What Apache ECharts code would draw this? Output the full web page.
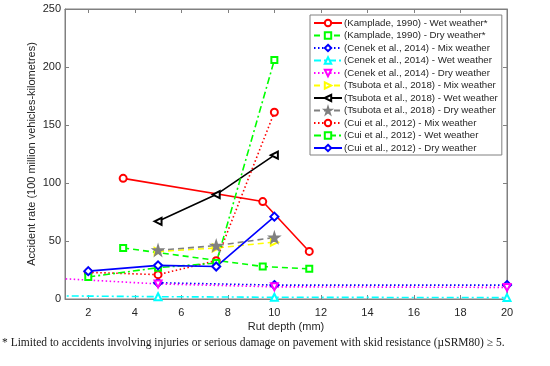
<!DOCTYPE html>
<html>
<head>
<meta charset="utf-8">
<script src="https://cdn.jsdelivr.net/npm/echarts@6/dist/echarts.min.js"></script>
<style>html,body{margin:0;padding:0;background:#fff}#c{width:550px;height:366px}</style>
</head>
<body>
<div id="c"></div>
<script>
// ---- data ----
const seriesNames = [
  '(Kamplade, 1990) - Wet weather*',
  '(Kamplade, 1990) - Dry weather*',
  '(Cenek et al., 2014) - Mix weather',
  '(Cenek et al., 2014) - Wet weather',
  '(Cenek et al., 2014) - Dry weather',
  '(Tsubota et al., 2018) - Mix weather',
  '(Tsubota et al., 2018) - Wet weather',
  '(Tsubota et al., 2018) - Dry weather',
  '(Cui et al., 2012) - Mix weather',
  '(Cui et al., 2012) - Wet weather',
  '(Cui et al., 2012) - Dry weather'
];
const kampladeWetX = [3.5, 9.5, 11.5];
const kampladeWetY = [104, 84, 41];
const kampladeDryX = [3.5, 9.5, 11.5];
const kampladeDryY = [44, 28, 26];
const cenekMixX = [5, 10, 20];
const cenekMixY = [14, 12, 12];
const cenekWetX = [0, 5, 10, 20];
const cenekWetY = [2.8, 2, 1.5, 1.2];
const cenekDryX = [0, 5, 10, 20];
const cenekDryY = [18.5, 13, 10.5, 10];
const tsubotaMixX = [5, 7.5, 10];
const tsubotaMixY = [41, 44, 49];
const tsubotaWetX = [5, 7.5, 10];
const tsubotaWetY = [67, 90, 124];
const tsubotaDryX = [5, 7.5, 10];
const tsubotaDryY = [42, 46, 53];
const cuiMixX = [2, 5, 7.5, 10];
const cuiMixY = [23, 21, 33, 161];
const cuiWetX = [2, 5, 7.5, 10];
const cuiWetY = [19, 27, 31, 206];
const cuiDryX = [2, 5, 7.5, 10];
const cuiDryY = [24, 29, 28, 71];
const xTicks = [2, 4, 6, 8, 10, 12, 14, 16, 18, 20];
const yTicks = [0, 50, 100, 150, 200, 250];
const xTitle = 'Rut depth (mm)';
const yTitle = 'Accident rate (100 million vehicles-kilometres)';
const footnote = '* Limited to accidents involving injuries or serious damage on pavement with skid resistance (\u00b5SRM80) \u2265 5.';

// ---- styling ----
const STAR = 'path://M50,0 L61.8,36.2 L100,36.2 L69.1,58.8 L80.9,95.1 L50,72.7 L19.1,95.1 L30.9,58.8 L0,36.2 L38.2,36.2 Z';
const xs = [kampladeWetX, kampladeDryX, cenekMixX, cenekWetX, cenekDryX, tsubotaMixX, tsubotaWetX, tsubotaDryX, cuiMixX, cuiWetX, cuiDryX];
const ys = [kampladeWetY, kampladeDryY, cenekMixY, cenekWetY, cenekDryY, tsubotaMixY, tsubotaWetY, tsubotaDryY, cuiMixY, cuiWetY, cuiDryY];
const DASH = [6, 4], DOT = [1.5, 2.5], DASHDOT = [7, 3, 2, 3];
const styles = [
  {c:'#ff0000', t:'solid', s:'emptyCircle', r:0, sz:7},
  {c:'#00ff00', t:DASH, s:'emptyRect', r:0, sz:6},
  {c:'#0000ff', t:DOT, s:'emptyDiamond', r:0, sz:8},
  {c:'#00ffff', t:DASHDOT, s:'emptyTriangle', r:0, sz:7},
  {c:'#ff00ff', t:DOT, s:'emptyTriangle', r:180, sz:7},
  {c:'#ffff00', t:DASH, s:'emptyTriangle', r:-90, sz:7},
  {c:'#000000', t:'solid', s:'emptyTriangle', r:90, sz:7},
  {c:'#808080', t:DASH, s:STAR, r:0, sz:10},
  {c:'#ff0000', t:DOT, s:'emptyCircle', r:0, sz:7},
  {c:'#00ff00', t:DASHDOT, s:'emptyRect', r:0, sz:6},
  {c:'#0000ff', t:'solid', s:'emptyDiamond', r:0, sz:8}
];

const series = seriesNames.map((name, i) => ({
  name: name,
  type: 'line',
  data: xs[i].map((x, j) => [x, ys[i][j]]),
  symbol: styles[i].s,
  symbolSize: styles[i].sz,
  symbolRotate: styles[i].r,
  showAllSymbol: true,
  clip: true,
  lineStyle: {color: styles[i].c, width: 1.6, type: styles[i].t},
  itemStyle: {color: styles[i].c, borderColor: styles[i].c, borderWidth: 1.6},
  emphasis: {disabled: true},
  animation: false
}));

const axisCol = '#808080';
const labCol = '#262626';
const chart = echarts.init(document.getElementById('c'), null, {renderer: 'canvas'});
chart.setOption({
  backgroundColor: '#ffffff',
  animation: false,
  grid: {left: 65, right: 43, top: 9, bottom: 67, show: true, borderColor: axisCol, borderWidth: 1, backgroundColor: 'transparent'},
  xAxis: [{
    type: 'value', min: 1, max: 20,
    axisLine: {show: true, onZero: false, lineStyle: {color: axisCol}},
    axisTick: {show: true, inside: true, length: 4, customValues: xTicks, lineStyle: {color: axisCol}},
    axisLabel: {customValues: xTicks, color: labCol, fontSize: 11, fontFamily: 'Liberation Sans', margin: 8},
    splitLine: {show: false}
  }, {
    type: 'value', min: 1, max: 20, position: 'top',
    axisLine: {show: true, onZero: false, lineStyle: {color: axisCol}},
    axisTick: {show: true, inside: true, length: 4, customValues: xTicks, lineStyle: {color: axisCol}},
    axisLabel: {show: false},
    splitLine: {show: false}
  }],
  yAxis: [{
    type: 'value', min: 0, max: 250, interval: 50,
    axisLine: {show: true, onZero: false, lineStyle: {color: axisCol}},
    axisTick: {show: true, inside: true, length: 4, lineStyle: {color: axisCol}},
    axisLabel: {color: labCol, fontSize: 11, fontFamily: 'Liberation Sans', margin: 4},
    splitLine: {show: false}
  }, {
    type: 'value', min: 0, max: 250, interval: 50, position: 'right',
    axisLine: {show: true, onZero: false, lineStyle: {color: axisCol}},
    axisTick: {show: true, inside: true, length: 4, lineStyle: {color: axisCol}},
    axisLabel: {show: false},
    splitLine: {show: false}
  }],
  legend: {
    orient: 'vertical', left: 310, top: 15,
    padding: [2, 4, 1, 3], itemGap: 0.5,
    itemWidth: 28, itemHeight: 8,
    backgroundColor: '#ffffff', borderColor: axisCol, borderWidth: 1,
    textStyle: {fontSize: 9.7, fontFamily: 'Liberation Sans', color: labCol, lineHeight: 12, padding: [0, 0, 0, -3]},
    data: seriesNames,
    selectedMode: false
  },
  graphic: [
    {type: 'text', x: 286, y: 327, style: {text: xTitle, fontSize: 11, fontFamily: 'Liberation Sans', fill: labCol, textAlign: 'center', textVerticalAlign: 'middle'}},
    {type: 'text', x: 32, y: 154, rotation: Math.PI / 2, style: {text: yTitle, fontSize: 11, fontFamily: 'Liberation Sans', fill: labCol, textAlign: 'center', textVerticalAlign: 'middle'}},
    {type: 'text', x: 2, y: 343, style: {text: footnote, fontSize: 11.5, fontFamily: 'Liberation Serif', fill: '#1a1a1a', textAlign: 'left', textVerticalAlign: 'middle'}}
  ],
  series: series
});
</script>
</body>
</html>
